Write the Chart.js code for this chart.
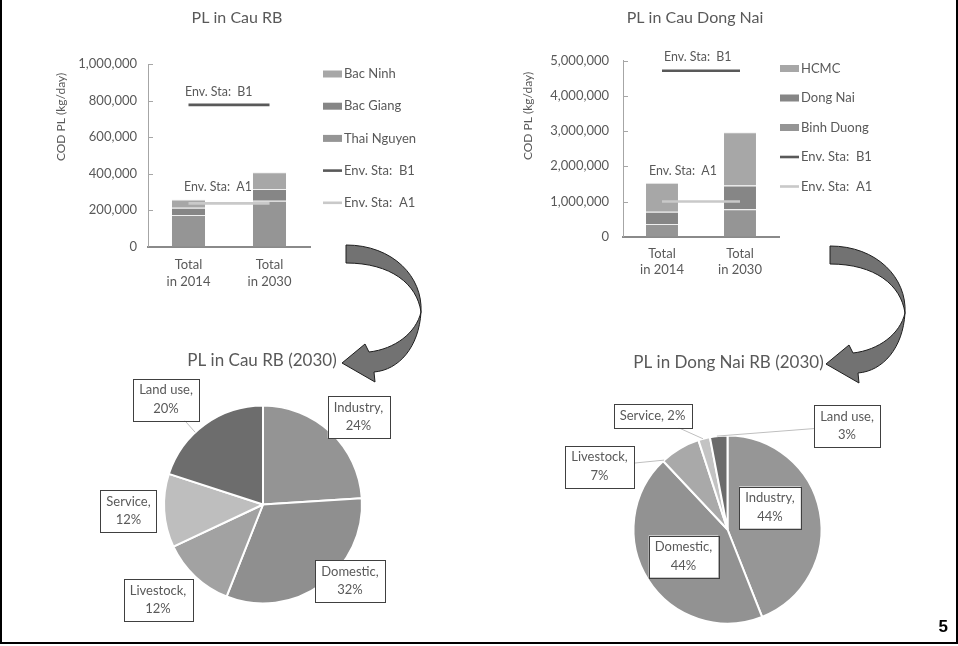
<!DOCTYPE html>
<html>
<head>
<meta charset="utf-8">
<title>Pollution load – Cau and Dong Nai river basins</title>
<script src="https://cdn.jsdelivr.net/npm/chart.js@4.4.1/dist/chart.umd.min.js"></script>
<style>
  html, body { margin: 0; padding: 0; background: #fff; }
  #page { position: relative; width: 958px; height: 646px; overflow: hidden; background: #fff; }
  canvas { position: absolute; }
  #frame { position: absolute; left: 0; top: -10px; width: 954px; height: 650px; border: 2px solid #000; }
  #pageNo { position: absolute; right: 10px; top: 617px; font: bold 17px "Liberation Sans", Arial, sans-serif; color: #000; }
  #arrows { position: absolute; left: 0; top: 0; }
</style>
</head>
<body>
<div id="page">
  <canvas id="cauBar" width="479" height="300" style="left:0;top:0"></canvas>
  <canvas id="dnBar" width="479" height="300" style="left:479px;top:0"></canvas>
  <canvas id="cauPie" width="479" height="316" style="left:0;top:330px"></canvas>
  <canvas id="dnPie" width="479" height="316" style="left:479px;top:330px"></canvas>
  <svg id="arrows" width="958" height="646">
    <defs>
      <path id="bendArrow" d="M346,245 C393,245 423,277 421,312 C419,347 399,370 374,372 L375,382 L342,363 L365,344 L369,352 C395,349 416,333 421,312 C417,284 391,263 346,263 Z"/>
    </defs>
    <use href="#bendArrow" fill="#727272" stroke="#1e1e1e" stroke-width="1"/>
    <use href="#bendArrow" transform="translate(484,1)" fill="#727272" stroke="#1e1e1e" stroke-width="1"/>
  </svg>
  <div id="frame"></div>
  <div id="pageNo">5</div>
</div>
<script>
// ---- data -------------------------------------------------------------
const barCategories = [['Total', 'in 2014'], ['Total', 'in 2030']];

// Cau river basin, COD pollution load (kg/day) by province
const cauThaiNguyen = [173000, 252000];
const cauBacGiang   = [40000, 64000];
const cauBacNinh    = [46000, 91000];
const cauStdB1      = [776000, 776000];
const cauStdA1      = [237000, 237000];

// Dong Nai river basin, COD pollution load (kg/day) by province
const dnBinhDuong = [360000, 778000];
const dnDongNai   = [350000, 680000];
const dnHCMC      = [824000, 1506000];
const dnStdB1     = [4716000, 4716000];
const dnStdA1     = [1000000, 1000000];

const cauTicks = [0, 200000, 400000, 600000, 800000, 1000000];
const dnTicks  = [0, 1000000, 2000000, 3000000, 4000000, 5000000];

// 2030 pollution load share by sector (%)
const sectors = ['Industry', 'Domestic', 'Livestock', 'Service', 'Land use'];
const cauShare2030 = [24, 32, 12, 12, 20];
const dnShare2030  = [44, 44, 7, 2, 3];

// ---- shared look --------------------------------------------------------
Chart.defaults.font.family = 'Lato';
Chart.defaults.color = '#595959';
const TXT = '#595959';

// free text, line labels, legend and inner tick marks for the bar charts
const decorPlugin = {
  id: 'decor',
  afterDraw(chart, args, o) {
    const ctx = chart.ctx;
    ctx.save();
    (o.texts || []).forEach(t => {
      ctx.save();
      ctx.font = t.font; ctx.fillStyle = TXT;
      ctx.textAlign = t.align || 'center'; ctx.textBaseline = 'middle';
      ctx.translate(t.x, t.y);
      if (t.rotate) ctx.rotate(t.rotate * Math.PI / 180);
      ctx.fillText(t.text, 0, 0);
      ctx.restore();
    });
    if (o.innerTicks) {
      const ys = chart.scales.y, a = chart.chartArea;
      ctx.strokeStyle = o.innerTicks.color; ctx.lineWidth = 1;
      ys.ticks.forEach(tk => {
        if (tk.value === 0) return;
        const y = Math.round(ys.getPixelForValue(tk.value)) + 0.5;
        ctx.beginPath(); ctx.moveTo(a.left, y); ctx.lineTo(a.left + o.innerTicks.length, y); ctx.stroke();
      });
    }
    (o.lineLabels || []).forEach(l => {
      const pt = chart.getDatasetMeta(l.index).data[0];
      ctx.font = o.labelFont; ctx.fillStyle = TXT;
      ctx.textAlign = 'left'; ctx.textBaseline = 'middle';
      ctx.fillText(chart.data.datasets[l.index].label, pt.x + l.dx, pt.y + l.dy);
    });
    if (o.legend) {
      const L = o.legend;
      L.order.forEach((di, k) => {
        const ds = chart.data.datasets[di];
        const y = L.y + k * L.gap;
        if (ds.type === 'line') {
          ctx.strokeStyle = ds.borderColor; ctx.lineWidth = ds.borderWidth;
          ctx.beginPath(); ctx.moveTo(L.x, y); ctx.lineTo(L.x + 19, y); ctx.stroke();
        } else {
          ctx.fillStyle = ds.backgroundColor;
          ctx.fillRect(L.x, y - 3.5, 19, 7);
        }
        ctx.font = L.font; ctx.fillStyle = TXT;
        ctx.textAlign = 'left'; ctx.textBaseline = 'middle';
        ctx.fillText(ds.label, L.x + 21, y);
      });
    }
    ctx.restore();
  }
};

// boxed "Sector, NN%" callouts for the pies
const pieLabelPlugin = {
  id: 'pieCallouts',
  afterDraw(chart, args, o) {
    if (!o.items) return;
    const ctx = chart.ctx;
    const meta = chart.getDatasetMeta(0);
    const ds = chart.data.datasets[0];
    ctx.save();
    ctx.font = o.font;
    meta.data.forEach((arc, i) => {
      const it = o.items[i];
      const label = chart.data.labels[i], val = ds.data[i];
      const lines = it.oneLine ? [label + ', ' + val + '%'] : [label + ',', val + '%'];
      const cx = arc.x + it.dx, cy = arc.y + it.dy;
      const w = Math.max(...lines.map(s => ctx.measureText(s).width)) + 2 * o.padX;
      const h = lines.length * o.lineH + 2 * o.padY;
      const bx = cx - w / 2, by = cy - h / 2;
      if (it.leader !== undefined) {
        // leader from the box edge to a point on the slice rim
        const t = arc.startAngle + it.leader * (arc.endAngle - arc.startAngle);
        const tx = arc.x + Math.cos(t) * arc.outerRadius, ty = arc.y + Math.sin(t) * arc.outerRadius;
        const vx = tx - cx, vy = ty - cy;
        const s = Math.min(Math.abs((w / 2) / (vx || 1e-6)), Math.abs((h / 2) / (vy || 1e-6)));
        ctx.strokeStyle = '#bfbfbf'; ctx.lineWidth = 1;
        ctx.beginPath(); ctx.moveTo(cx + vx * s, cy + vy * s); ctx.lineTo(tx, ty); ctx.stroke();
      }
      ctx.fillStyle = '#fff';
      ctx.fillRect(bx, by, w, h);
      ctx.strokeStyle = '#404040'; ctx.lineWidth = 1;
      ctx.strokeRect(Math.round(bx) + 0.5, Math.round(by) + 0.5, Math.round(w), Math.round(h));
      ctx.fillStyle = TXT; ctx.textAlign = 'center'; ctx.textBaseline = 'middle';
      lines.forEach((s, k) => ctx.fillText(s, cx, by + o.padY + o.lineH * (k + 0.5)));
    });
    ctx.restore();
    if (o.title) {
      ctx.save();
      ctx.font = o.title.font; ctx.fillStyle = TXT;
      ctx.textAlign = 'center'; ctx.textBaseline = 'middle';
      ctx.fillText(o.title.text, o.title.x, o.title.y);
      ctx.restore();
    }
  }
};

function barConfig(series, lines, ticks, geo, decor) {
  const datasets = series.map(s => ({
    type: 'bar', label: s.label, data: s.data, backgroundColor: s.color,
    borderColor: 'rgba(225,225,225,0.55)', borderWidth: { top: 1, bottom: 0, left: 0, right: 0 },
    stack: 'provinces', order: 2,
    categoryPercentage: 1, barPercentage: 0.41
  })).concat(lines.map(l => ({
    type: 'line', label: l.label, data: l.data, borderColor: l.color, borderWidth: 2.6,
    pointRadius: 0, fill: false, tension: 0, stack: l.stack, order: 1
  })));
  return {
    type: 'bar',
    data: { labels: barCategories, datasets },
    options: {
      responsive: false, animation: false, events: [],
      layout: { padding: { left: 0, top: geo.top, right: geo.padRight, bottom: 0 } },
      plugins: { legend: { display: false }, tooltip: { enabled: false }, decor },
      scales: {
        x: {
          stacked: true, offset: true,
          grid: { display: false, drawTicks: false },
          border: { display: true, color: '#8a8a8a', width: 2 },
          ticks: { color: TXT, font: { size: 13, lineHeight: geo.xLine }, padding: geo.xPad, maxRotation: 0 },
          afterFit: s => { s.height = geo.xHeight; }
        },
        y: {
          stacked: true, min: 0, max: ticks[ticks.length - 1],
          afterBuildTicks: s => { s.ticks = ticks.map(v => ({ value: v })); },
          grid: { display: false, drawTicks: false },
          border: { display: true, color: '#a6a6a6', width: 1 },
          ticks: { color: TXT, font: { size: 13 }, padding: geo.yPad,
                   callback: v => v.toLocaleString('en-US') },
          afterFit: s => { s.width = geo.yWidth; }
        }
      }
    },
    plugins: [decorPlugin]
  };
}

// ---- Cau river basin, stacked loads ----------------------------------------
new Chart(document.getElementById('cauBar'), barConfig(
  [
    { label: 'Thai Nguyen', data: cauThaiNguyen, color: '#959595' },
    { label: 'Bac Giang',   data: cauBacGiang,   color: '#868686' },
    { label: 'Bac Ninh',    data: cauBacNinh,    color: '#a7a7a7' }
  ],
  [
    { label: 'Env. Sta:  B1', data: cauStdB1, color: '#595959', stack: 'b1' },
    { label: 'Env. Sta:  A1', data: cauStdA1, color: '#c9c9c9', stack: 'a1' }
  ],
  cauTicks,
  { top: 64, padRight: 169, yWidth: 148, xHeight: 53.3, xPad: 10, xLine: 1.3, yPad: 11 },
  {
    texts: [
      { text: 'PL in Cau RB', x: 237, y: 18, font: '16px Lato' },
      { text: 'COD PL (kg/day)', x: 61, y: 117, font: '12px Lato', rotate: -90 }
    ],
    innerTicks: { length: 5, color: '#a6a6a6' },
    labelFont: '12.4px Lato',
    lineLabels: [ { index: 3, dx: -3.5, dy: -13 }, { index: 4, dx: -4.5, dy: -16.6 } ],
    legend: { x: 323, y: 74, gap: 32.2, order: [2, 1, 0, 3, 4], font: '13px Lato' }
  }
));

// ---- Dong Nai river basin, stacked loads -----------------------------------
new Chart(document.getElementById('dnBar'), barConfig(
  [
    { label: 'Binh Duong', data: dnBinhDuong, color: '#959595' },
    { label: 'Dong Nai',   data: dnDongNai,   color: '#868686' },
    { label: 'HCMC',       data: dnHCMC,      color: '#a7a7a7' }
  ],
  [
    { label: 'Env. Sta:  B1', data: dnStdB1, color: '#595959', stack: 'b1' },
    { label: 'Env. Sta:  A1', data: dnStdA1, color: '#c9c9c9', stack: 'a1' }
  ],
  dnTicks,
  { top: 60.7, padRight: 179, yWidth: 144, xHeight: 63.3, xPad: 8.3, xLine: 1.28, yPad: 14 },
  {
    texts: [
      { text: 'PL in Cau Dong Nai', x: 216, y: 18, font: '16px Lato' },
      { text: 'COD PL (kg/day)', x: 49.5, y: 116, font: '12px Lato', rotate: -90 }
    ],
    innerTicks: { length: 5, color: '#a6a6a6' },
    labelFont: '12.4px Lato',
    lineLabels: [ { index: 3, dx: 2, dy: -13.7 }, { index: 4, dx: -13, dy: -31 } ],
    legend: { x: 301, y: 68.5, gap: 29.5, order: [2, 1, 0, 3, 4], font: '13px Lato' }
  }
));

// ---- 2030 sector shares --------------------------------------------------
function pieConfig(values, colors, geo, callouts) {
  return {
    type: 'pie',
    data: { labels: sectors, datasets: [{ data: values, backgroundColor: colors,
            borderColor: '#ffffff', borderWidth: 2 }] },
    options: {
      responsive: false, animation: false, events: [],
      radius: geo.radius,
      layout: { padding: { left: geo.padLeft, top: geo.padTop, right: 0, bottom: 0 } },
      plugins: { legend: { display: false }, tooltip: { enabled: false }, pieCallouts: callouts }
    },
    plugins: [pieLabelPlugin]
  };
}

new Chart(document.getElementById('cauPie'), pieConfig(
  cauShare2030,
  ['#949494', '#8f8f8f', '#a2a2a2', '#bebebe', '#6d6d6d'],
  { radius: 99, padLeft: 47, padTop: 33 },
  {
    font: '13px Lato', lineH: 18.5, padX: 6, padY: 2.5,
    title: { text: 'PL in Cau RB (2030)', x: 262, y: 31, font: '17px Lato' },
    items: [
      { dx: 95.5,  dy: -87.5 },
      { dx: 87,    dy: 76.5 },
      { dx: -105,  dy: 95.5 },
      { dx: -134.5, dy: 6.5 },
      { dx: -97,   dy: -105, leader: 0.4 }
    ]
  }
));

new Chart(document.getElementById('dnPie'), pieConfig(
  dnShare2030,
  ['#969696', '#929292', '#a9a9a9', '#c3c3c3', '#6b6b6b'],
  { radius: 94, padLeft: 18, padTop: 83 },
  {
    font: '13px Lato', lineH: 18.5, padX: 6, padY: 2.5,
    title: { text: 'PL in Dong Nai RB (2030)', x: 249.5, y: 33, font: '17px Lato' },
    items: [
      { dx: 42.5,  dy: -22 },
      { dx: -44,   dy: 27 },
      { dx: -128,  dy: -63, leader: 0.03 },
      { dx: -75,   dy: -113.5, leader: 0.4, oneLine: true },
      { dx: 119.5, dy: -103.5, leader: 0.4 }
    ]
  }
));
</script>
</body>
</html>
